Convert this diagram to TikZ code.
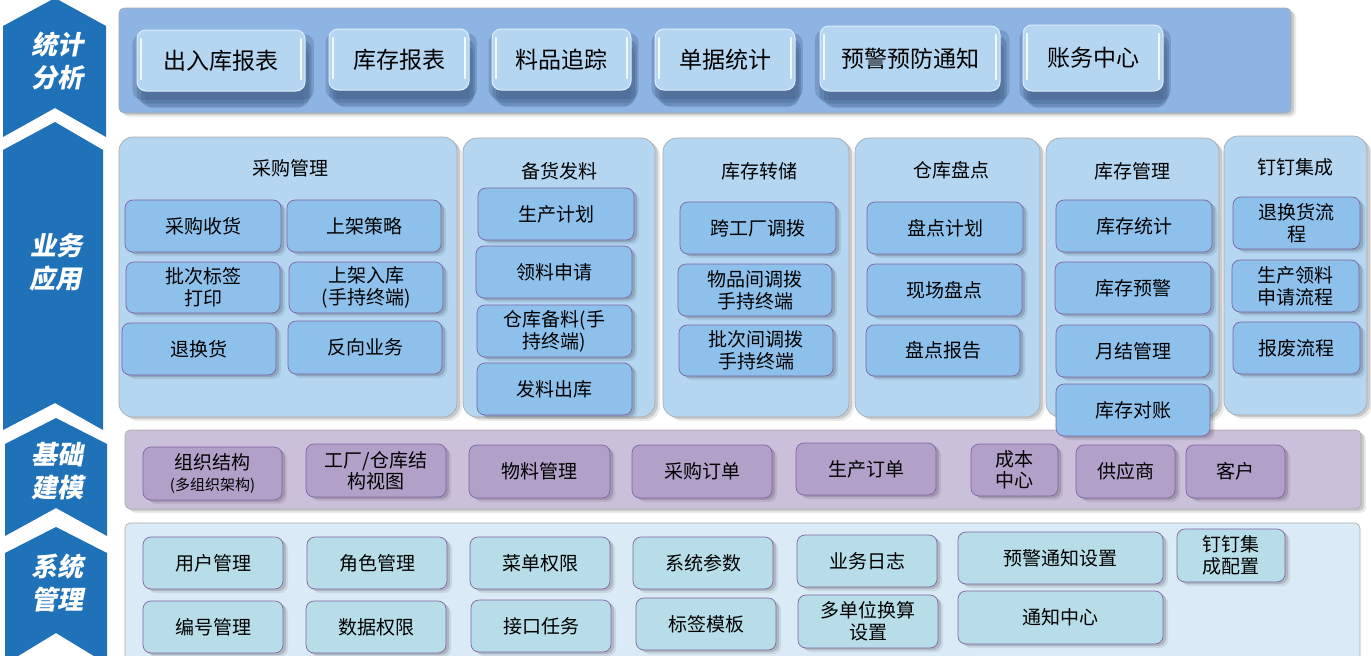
\documentclass[tikz,border=0pt]{standalone}
\usepackage{fontspec}
\setmainfont{Noto Sans CJK SC}
\newfontfamily\labfont{Noto Sans CJK SC}[FakeSlant=0.2]
\usetikzlibrary{shadows}
\definecolor{arrowblue}{HTML}{1F71B8}
\definecolor{barblue}{HTML}{8EB4E3}
\definecolor{btnblue}{HTML}{B5D6F1}
\definecolor{panelblue}{HTML}{B4D6F1}
\definecolor{subblue}{HTML}{8DC0EB}
\definecolor{lavband}{HTML}{CBC0DA}
\definecolor{lavbox}{HTML}{B1A0C7}
\definecolor{sysband}{HTML}{DBEAF7}
\definecolor{sysbox}{HTML}{B7DDE8}
\definecolor{boxline}{HTML}{8064A2}
\definecolor{panelline}{HTML}{A9A9A9}
\definecolor{shd}{HTML}{34507A}
\newcommand\fsz[2]{\fontsize{#1}{#2}\selectfont}
\newcommand\bx[7]{\node[#1, anchor=north west, minimum width={(#5-(#3))*1pt}, minimum height={(#6-(#4))*1pt}] (#2) at (#3,#4) {#7};}
\begin{document}
\begin{tikzpicture}[x=1pt,y=-1pt,
  soft/.style={drop shadow={shadow xshift=3pt,shadow yshift=-2pt,opacity=.14,fill=black},
               drop shadow={shadow xshift=5pt,shadow yshift=-4pt,opacity=.08,fill=black}},
  topsh/.style={drop shadow={shadow xshift=2pt,shadow yshift=-6pt,shadow scale=1.08,opacity=.25,fill=shd},
                drop shadow={shadow xshift=3pt,shadow yshift=-11pt,shadow scale=1.04,opacity=.28,fill=shd},
                drop shadow={shadow xshift=4pt,shadow yshift=-16pt,opacity=.25,fill=shd},
                drop shadow={shadow xshift=4pt,shadow yshift=-20pt,shadow scale=0.95,opacity=.15,fill=shd}},
  base/.style={rounded corners=8pt, inner sep=0pt, outer sep=0pt, align=center, text=black},
  bar/.style={base, rounded corners=5pt, fill=barblue, draw=panelline, line width=0.6pt, soft},
  btn/.style={base, rounded corners=9pt, fill=btnblue, draw=white!55!btnblue, line width=1pt, font=\fsz{23}{26}, topsh},
  hl/.style={white, line width=2.2pt, line cap=round, opacity=0.85},
  panel/.style={base, rounded corners=14pt, fill=panelblue, draw=panelline, line width=0.7pt, soft},
  hdr/.style={inner sep=0pt, outer sep=0pt, font=\fsz{19}{22}, text=black},
  sub/.style={base, fill=subblue, draw=boxline, line width=0.7pt, font=\fsz{19}{22}, soft},
  band/.style={base, rounded corners=5pt, draw=panelline, line width=0.6pt},
  mod/.style={base, fill=lavbox, draw=boxline, line width=0.7pt, font=\fsz{19}{21}, soft},
  sys/.style={base, fill=sysbox, draw=boxline, line width=0.7pt, font=\fsz{19}{22}, soft},
  lab/.style={inner sep=0pt, outer sep=0pt, align=center, text=white, font=\labfont\bfseries\fsz{26}{33}}
]
\useasboundingbox (0,0) rectangle (1371,656);
% left chevrons
\fill[arrowblue] (3,26) -- (55,-2) -- (106,26) -- (106,137) -- (55,108) -- (3,137) -- cycle;
\fill[arrowblue] (3,150) -- (55,122) -- (103,150) -- (103,430) -- (55,403) -- (3,430) -- cycle;
\fill[arrowblue] (5,444) -- (56,418) -- (107,444) -- (107,536) -- (56,508) -- (5,536) -- cycle;
\fill[arrowblue] (5,553) -- (56,527) -- (107,553) -- (107,664) -- (56,633) -- (5,664) -- cycle;
\node[lab] (l1) at (57,61) {统计\\分析};
\node[lab] (l2) at (56,262) {业务\\应用};
\node[lab] (l3) at (57,471) {基础\\建模};
\node[lab] (l4) at (57,583) {系统\\管理};
% top bar
\bx{bar}{topbar}{119}{8}{1291}{113}{}
\bx{btn}{b1}{137}{30}{305}{91}{出入库报表}
\bx{btn}{b2}{329}{29}{469}{90}{库存报表}
\bx{btn}{b3}{492}{29}{631}{90}{料品追踪}
\bx{btn}{b4}{655}{29}{795}{90}{单据统计}
\bx{btn}{b5}{820}{26}{1000}{91}{预警预防通知}
\bx{btn}{b6}{1023}{25}{1163}{91}{账务中心}
\foreach \n in {b1,b2,b3,b4,b5,b6}{
  \draw[hl] ([xshift=4pt,yshift=-9pt]\n.north west) -- ([xshift=4pt,yshift=12pt]\n.south west);
  \draw[hl] ([xshift=-4pt,yshift=-9pt]\n.north east) -- ([xshift=-4pt,yshift=12pt]\n.south east);
}
% bands
\bx{band, fill=lavband, soft}{mb}{125}{430}{1361}{509}{}
\bx{band, fill=sysband}{sb}{125}{523}{1360}{668}{}
% business panels
\bx{panel}{p1}{119}{137}{457}{417}{}
\bx{panel}{p2}{463}{138}{655}{417}{}
\bx{panel}{p3}{663}{138}{849}{417}{}
\bx{panel}{p4}{855}{138}{1040}{417}{}
\bx{panel}{p5}{1046}{138}{1219}{417}{}
\bx{panel}{p6}{1224}{136}{1367}{415}{}
\node[hdr] (h1) at (290,168) {采购管理};
\node[hdr] (h2) at (559,171) {备货发料};
\node[hdr] (h3) at (759,171) {库存转储};
\node[hdr] (h4) at (951,170) {仓库盘点};
\node[hdr] (h5) at (1132,171) {库存管理};
\node[hdr] (h6) at (1295,167) {钉钉集成};
% 采购管理
\bx{sub}{c1}{125}{200}{281}{252}{采购收货}
\bx{sub}{c2}{287}{200}{441}{252}{上架策略}
\bx{sub}{c3}{126}{262}{280}{313}{批次标签\\打印}
\bx{sub}{c4}{289}{262}{443}{313}{上架入库\\(手持终端)}
\bx{sub}{c5}{122}{323}{276}{375}{退换货}
\bx{sub}{c6}{288}{321}{442}{374}{反向业务}
% 备货发料
\bx{sub}{d1}{478}{188}{634}{240}{生产计划}
\bx{sub}{d2}{476}{246}{632}{298}{领料申请}
\bx{sub}{d3}{477}{305}{632}{357}{仓库备料(手\\持终端)}
\bx{sub}{d4}{477}{363}{632}{415}{发料出库}
% 库存转储
\bx{sub}{e1}{680}{202}{836}{254}{跨工厂调拨}
\bx{sub}{e2}{678}{264}{832}{316}{物品间调拨\\手持终端}
\bx{sub}{e3}{679}{325}{833}{376}{批次间调拨\\手持终端}
% 仓库盘点
\bx{sub}{f1}{867}{202}{1023}{254}{盘点计划}
\bx{sub}{f2}{867}{264}{1022}{316}{现场盘点}
\bx{sub}{f3}{866}{325}{1020}{376}{盘点报告}
% 库存管理
\bx{sub}{g1}{1056}{200}{1212}{252}{库存统计}
\bx{sub}{g2}{1055}{262}{1211}{314}{库存预警}
\bx{sub}{g3}{1056}{325}{1210}{377}{月结管理}
\bx{sub}{g4}{1056}{384}{1210}{436}{库存对账}
% 钉钉集成
\bx{sub}{k1}{1233}{197}{1360}{249}{退换货流\\程}
\bx{sub}{k2}{1232}{260}{1359}{312}{生产领料\\申请流程}
\bx{sub}{k3}{1233}{322}{1360}{374}{报废流程}
% 基础建模
\bx{mod}{m1}{143}{447}{282}{500}{组织结构\\{\fsz{15}{17}(多组织架构)}}
\bx{mod}{m2}{306}{444}{446}{497}{工厂/仓库结\\构视图}
\bx{mod}{m3}{469}{445}{610}{498}{物料管理}
\bx{mod}{m4}{632}{445}{772}{498}{采购订单}
\bx{mod}{m5}{796}{443}{936}{495}{生产订单}
\bx{mod}{m6}{971}{444}{1058}{496}{成本\\中心}
\bx{mod}{m7}{1076}{445}{1175}{498}{供应商}
\bx{mod}{m8}{1186}{445}{1285}{498}{客户}
% 系统管理
\bx{sys}{s1}{143}{537}{283}{589}{用户管理}
\bx{sys}{s2}{307}{537}{447}{589}{角色管理}
\bx{sys}{s3}{470}{537}{610}{589}{菜单权限}
\bx{sys}{s4}{633}{537}{773}{589}{系统参数}
\bx{sys}{s5}{797}{535}{937}{587}{业务日志}
\bx{sys}{s6}{958}{532}{1163}{584}{预警通知设置}
\bx{sys}{s7}{1177}{529}{1285}{582}{钉钉集\\成配置}
\bx{sys}{t1}{143}{601}{283}{653}{编号管理}
\bx{sys}{t2}{306}{601}{446}{653}{数据权限}
\bx{sys}{t3}{471}{600}{611}{652}{接口任务}
\bx{sys}{t4}{636}{598}{776}{650}{标签模板}
\bx{sys}{t5}{798}{595}{938}{648}{多单位换算\\设置}
\bx{sys}{t6}{958}{591}{1163}{644}{通知中心}
\end{tikzpicture}
\end{document}
